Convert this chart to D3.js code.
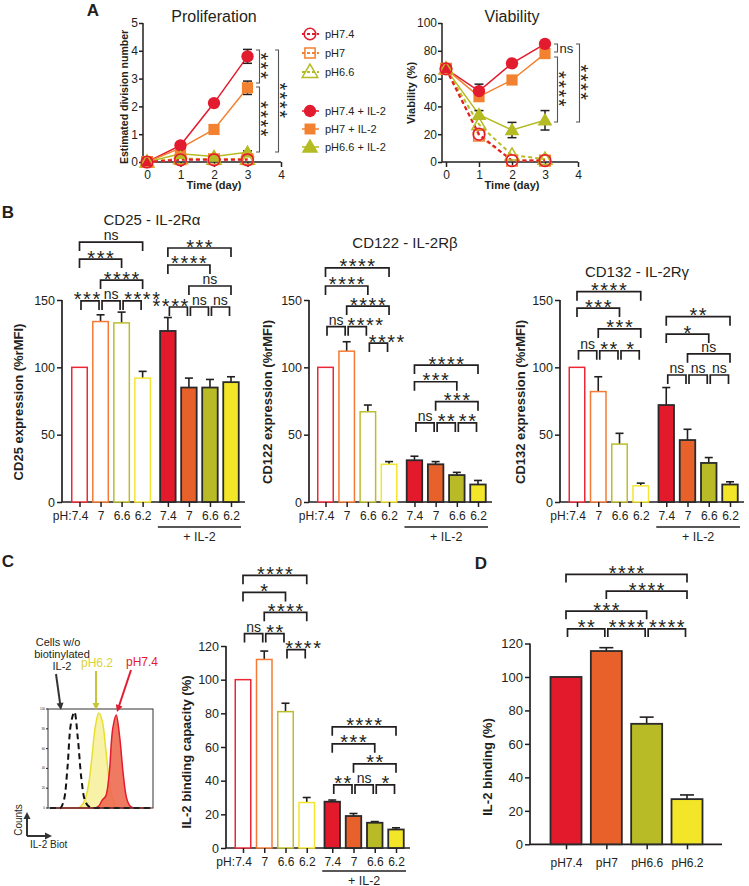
<!DOCTYPE html>
<html><head><meta charset="utf-8">
<script src="https://cdn.jsdelivr.net/npm/d3@7"></script>
<style>
body{margin:0;background:#fff;}
svg{font-family:"Liberation Sans",Arial,Helvetica,sans-serif;}
</style></head><body>
<svg id="c" width="749" height="886"></svg>
<script>
// ---------------- DATA ----------------
const days = [0, 1, 2, 3];
const seriesLabels = ["pH7.4", "pH7", "pH6.6", "pH7.4 + IL-2", "pH7 + IL-2", "pH6.6 + IL-2"];
// Proliferation (estimated division number)
const prolifPH74 = [0, 0.08, 0.08, 0.08];
const prolifPH7 = [0, 0.1, 0.1, 0.1];
const prolifPH66 = [0, 0.12, 0.1, 0.1];
const prolifPH74IL2 = [0, 0.6, 2.12, 3.8];
const prolifPH7IL2 = [0, 0.5, 1.17, 2.67];
const prolifPH66IL2 = [0, 0.3, 0.2, 0.35];
const prolifErrIL2 = [[0, 0.08, 0.08, 0.25], [0, 0.05, 0.08, 0.24], [0, 0.05, 0.05, 0.05]];
// Viability (%)
const viaPH74 = [67, 20, 1, 1];
const viaPH7 = [67, 19, 1, 1];
const viaPH66 = [67, 27, 5, 2];
const viaPH74IL2 = [67, 51, 71, 85];
const viaPH7IL2 = [67, 47, 59, 78];
const viaPH66IL2 = [67, 34, 23, 30];
const viaErrIL2 = [[0, 5, 1.5, 1.5], [0, 2, 1.5, 1.5], [0, 3, 5.5, 7]];
const prolifSig = [[4.03, 2.84, "***", 0], [2.7, 0.36, "****", 0], [4.03, 0.36, "****", 1]];
const viaSig = [[84.9, 79.1, "ns", 0], [75.5, 28.8, "****", 0], [84.9, 28.8, "****", 1]];

// Bar panels
const phTicks = ["7.4", "7", "6.6", "6.2", "7.4", "7", "6.6", "6.2"];
const cd25Values = [100, 134, 133, 92, 127, 85, 85, 89];
const cd25Err = [0, 5, 8, 5, 10, 7, 6, 4];
const cd122Values = [100, 112, 67, 28, 31, 28, 20, 13];
const cd122Err = [0, 7, 5, 2, 3, 2, 2, 3];
const cd132Values = [100, 82, 43, 12, 72, 46, 29, 13];
const cd132Err = [0, 11, 8, 2, 13, 8, 4, 2];
const bindValues = [100, 112, 81, 27, 27.5, 19, 15, 11];
const bindErr = [0, 5, 5, 3, 1, 1.5, 0.7, 1];
const dCategories = ["pH7.4", "pH7", "pH6.6", "pH6.2"];
const dValues = [100, 115.5, 72, 27];
const dErr = [0, 2, 4, 2.5];

// significance brackets: [from, to, label, height (data units)]
const cd25Sig = [[0,3,"ns",193],[0,2,"***",180.4],[1,3,"****",164.8],[0,1,"***",149.3],[1,2,"ns",149.3],[2,3,"****",149.3],
  [4,7,"***",188.6],[4,6,"****",176],[5,7,"ns",160.4],[4,5,"****",144.8],[5,6,"ns",144.8],[6,7,"ns",144.8]];
const cd122Sig = [[0,3,"****",173.8],[0,2,"****",160.4],[1,3,"****",145.5],[0,1,"ns",130.2],[1,2,"****",130.2],[2,3,"****",118],
  [4,7,"****",101.7],[4,6,"***",89.3],[5,7,"***",74.5],[4,5,"ns",58.7],[5,6,"**",58.7],[6,7,"**",58.7]];
const cd132Sig = [[0,3,"****",156.2],[0,2,"***",144],[1,3,"***",128.5],[0,1,"ns",112.3],[1,2,"**",112.3],[2,3,"*",112.3],
  [4,7,"**",137.6],[4,6,"*",124.7],[5,7,"ns",110],[4,5,"ns",94.3],[5,6,"ns",94.3],[6,7,"ns",94.3]];
const bindSig = [[0,3,"****",162],[0,2,"*",151.8],[1,3,"****",140],[0,1,"ns",127.4],[1,2,"**",127.4],[2,3,"****",117.9],
  [4,7,"****",72],[4,6,"***",61.9],[5,7,"**",50],[4,5,"**",37.5],[5,6,"ns",37.5],[6,7,"*",37.5]];
const dSig = [[0,3,"****",161.3],[1,3,"****",151.3],[0,2,"***",139.3],[0,1,"**",128.7],[1,2,"****",128.7],[2,3,"****",128.7]];

// Flow histogram (counts, % of max) across 30 fluorescence bins
const histCtrl = [0,0,0,0,8,40,85,97,70,30,8,2,0,0,0,0,0,0,0,0,0,0,0,0,0,0,0,0,0,0];
const histPH62 = [0,0,0,0,0,0,0,0,0,2,8,22,50,82,96,88,60,28,9,2,0,0,0,0,0,0,0,0,0,0];
const histPH74 = [0,0,0,0,0,0,0,0,0,0,0,0,0,0,2,8,12,35,80,94,72,35,10,2,0,0,0,0,0,0];

// ---------------- STYLE ----------------
const C = {red:"#e31b2e", orange:"#f28130", olive:"#b5bb22", yellow:"#f3e527",
  barRed:"#e21a2c", barOrange:"#e8612a", barOlive:"#b8bb26", barYellow:"#f3e527", ink:"#231f20"};
const openCols = ["#ec2836", "#f47a35", "#bcbd2e", "#f4e630"];
const fillCols = [C.barRed, C.barOrange, C.barOlive, C.barYellow];

const svg = d3.select("#c");

function styleAxis(sel, fs) {
  sel.selectAll("path.domain").remove();
  sel.selectAll(".tick line").attr("stroke", C.ink).attr("stroke-width", 1.5);
  sel.selectAll(".tick text").attr("fill", C.ink).style("font-size", fs + "px").style("font-family", '"Liberation Sans",Arial,sans-serif');
}
function line(g, x1, y1, x2, y2, w) {
  g.append("line").attr("x1", x1).attr("y1", y1).attr("x2", x2).attr("y2", y2)
    .attr("stroke", C.ink).attr("stroke-width", w || 1.5);
}
function label(g, x, y, t, fs, opts) {
  opts = opts || {};
  const el = g.append("text").attr("x", x).attr("y", y).text(t)
    .attr("text-anchor", opts.anchor || "middle").attr("fill", opts.fill || C.ink)
    .style("font-size", fs + "px").style("font-weight", opts.bold ? "bold" : "normal");
  if (opts.rot) el.attr("transform", `rotate(${opts.rot},${x},${y})`);
  return el;
}
function sigLabel(g, x, y, t) {
  if (t === "ns") return label(g, x, y - 2, t, 14);
  return label(g, x + 0.75, y + 5.5, t, 20).style("letter-spacing", "1.5px");
}

// panel letters
label(svg, 93, 16, "A", 17, {bold: true});
label(svg, 8, 218, "B", 17, {bold: true});
label(svg, 8, 567, "C", 17, {bold: true});
label(svg, 481, 569, "D", 17, {bold: true});

// ---------------- PANEL A ----------------
function linePanel(o) {
  const g = svg.append("g");
  const xs = d3.scaleLinear().domain([0, 4]).range([o.x0 + 4, o.x1]);
  const ys = d3.scaleLinear().domain([0, o.ymax]).range([o.y0, o.ytop]);
  // axes
  const ya = g.append("g").attr("transform", `translate(${o.x0},0)`)
    .call(d3.axisLeft(ys).tickValues(o.yticks).tickSize(4).tickPadding(1).tickFormat(d3.format("d")));
  styleAxis(ya, 12);
  const xa = g.append("g").attr("transform", `translate(0,${o.y0})`)
    .call(d3.axisBottom(xs).tickValues([0,1,2,3,4]).tickSize(5).tickPadding(3).tickFormat(d3.format("d")));
  styleAxis(xa, 12);
  line(g, o.x0, o.ytop, o.x0, o.y0);
  line(g, o.x0, o.y0, o.x1, o.y0);
  label(g, (o.x0 + o.x1) / 2 + 2, 22, o.title, 16);
  label(g, (o.x0 + o.x1) / 2 + 2, 189, "Time (day)", 11, {bold: true});
  label(g, o.ylabX, o.ylabY, o.ylab, o.ylabFs, {bold: true, rot: -90});

  const cols = [C.red, C.orange, C.olive, C.red, C.orange, C.olive];
  const syms = [d3.symbolCircle, d3.symbolSquare, d3.symbolTriangle];
  const sizes = [120, 125, 95];
  const lg = d3.line().x((d, i) => xs(days[i])).y(d => ys(d));
  [3, 4, 5].forEach((s) => {
    g.append("path").attr("d", lg(o.series[s])).attr("fill", "none").attr("stroke", cols[s]).attr("stroke-width", 1.5);
  });
  [2, 1, 0].forEach(s => {
    g.append("path").attr("d", lg(o.series[s])).attr("fill", "none").attr("stroke", cols[s]).attr("stroke-width", 2).attr("stroke-dasharray", "4,3");
  });
  [3, 4, 5].forEach((s, k) => {
    o.series[s].forEach((v, i) => {
      const e = o.err[k][i]; if (!e) return;
      const x = xs(days[i]);
      line(g, x, ys(v - e), x, ys(v + e), 1.5);
      line(g, x - 4.5, ys(v + e), x + 4.5, ys(v + e), 1.5);
      line(g, x - 4.5, ys(v - e), x + 4.5, ys(v - e), 1.5);
    });
  });
  [5, 4, 3].forEach((s) => {
    const k = s - 3;
    g.selectAll(null).data(o.series[s]).enter().append("path")
      .attr("transform", (d, i) => `translate(${xs(days[i])},${ys(d) + (k === 2 ? 1 : 0)})`)
      .attr("d", d3.symbol().type(syms[k]).size(sizes[k])).attr("fill", cols[s]);
  });
  [2, 1, 0].forEach((s) => {
    g.selectAll(null).data(o.series[s]).enter().append("path")
      .attr("transform", (d, i) => `translate(${xs(days[i])},${ys(d) + (s === 2 ? 1 : 0)})`)
      .attr("d", d3.symbol().type(syms[s]).size(sizes[s] * 0.9)).attr("fill", "none")
      .attr("stroke", cols[s]).attr("stroke-width", 1.5);
  });
  o.sig.forEach(([a, b, t, lvl]) => {
    const bx = lvl === 0 ? xs(3) + o.sigX0 : xs(3) + o.sigX1;
    const y1 = ys(a), y2 = ys(b);
    g.append("path").attr("d", `M${bx - 3.5},${y1}H${bx}V${y2}H${bx - 3.5}`)
      .attr("fill", "none").attr("stroke", "#555").attr("stroke-width", 1.1);
    if (t === "ns") label(g, bx + 2, (y1 + y2) / 2 + 4.5, t, 13, {anchor: "start"});
    else label(g, bx - 6, (y1 + y2) / 2, t, 20, {rot: 90}).style("letter-spacing", "1.5px");
  });
}

linePanel({x0: 143, x1: 281, y0: 162, ytop: 23, ymax: 5, yticks: [0,1,2,3,4,5], title: "Proliferation",
  ylab: "Estimated division number", ylabX: 127.5, ylabY: 97, ylabFs: 10.5,
  series: [prolifPH74, prolifPH7, prolifPH66, prolifPH74IL2, prolifPH7IL2, prolifPH66IL2],
  err: prolifErrIL2, sig: prolifSig, sigX0: 12, sigX1: 31});
linePanel({x0: 442, x1: 578, y0: 162, ytop: 23, ymax: 100, yticks: [0,20,40,60,80,100], title: "Viability",
  ylab: "Viability (%)", ylabX: 415, ylabY: 93, ylabFs: 11,
  series: [viaPH74, viaPH7, viaPH66, viaPH74IL2, viaPH7IL2, viaPH66IL2],
  err: viaErrIL2, sig: viaSig, sigX0: 12.5, sigX1: 34.5});

// legend
(function () {
  const g = svg.append("g");
  const rows = [34, 53, 72, 111, 129, 147];
  const cols = [C.red, C.orange, C.olive, C.red, C.orange, C.olive];
  const syms = [d3.symbolCircle, d3.symbolSquare, d3.symbolTriangle];
  seriesLabels.forEach((t, i) => {
    const y = rows[i], open = i < 3, k = i % 3;
    g.append("line").attr("x1", 302).attr("x2", 319).attr("y1", y).attr("y2", y)
      .attr("stroke", cols[i]).attr("stroke-width", open ? 2 : 1.5).attr("stroke-dasharray", open ? "3,2" : null);
    g.append("path").attr("transform", `translate(310,${y + (k === 2 ? 1 : 0)})`)
      .attr("d", d3.symbol().type(syms[k]).size(open ? 105 : 120))
      .attr("fill", open ? "none" : cols[i]).attr("stroke", open ? cols[i] : "none").attr("stroke-width", 1.5);
    label(g, 325, y + 4, t, 11, {anchor: "start"});
  });
})();

// ---------------- BAR PANELS ----------------
function sigBrackets(g, xs, ys, sig, nudge, leg) {
  sig.forEach(([i, j, t, v], n) => {
    let x1 = xs(i), x2 = xs(j);
    if (j - i === 1) { x1 += 1.5; x2 -= 1.5; }
    const y = ys(v);
    g.append("path").attr("d", `M${x1},${y + leg}V${y}H${x2}V${y + leg}`)
      .attr("fill", "none").attr("stroke", C.ink).attr("stroke-width", 1.7);
    sigLabel(g, (x1 + x2) / 2 + ((nudge && nudge[n]) || 0), y, t);
  });
}

function groupedBars(o) {
  const g = svg.append("g");
  const pos = d3.scaleLinear().domain([0, 7.2]).range([o.c0, o.c1]);
  const xs = i => pos(i + (i >= 4 ? 0.2 : 0));
  const ys = d3.scaleLinear().domain([0, o.ymax]).range([o.y0, o.ytop]);
  const bw = 15.5;
  const ya = g.append("g").attr("transform", `translate(${o.x0},0)`)
    .call(d3.axisLeft(ys).tickValues(o.yticks).tickSize(5).tickPadding(2));
  styleAxis(ya, 12.5);
  line(g, o.x0, o.ytop, o.x0, o.y0, 1.7);
  line(g, o.x0, o.y0, xs(7) + 14, o.y0, 1.7);
  o.values.forEach((v, i) => {
    const open = i < 4, c = i % 4;
    const x = xs(i);
    const e = o.err[i];
    if (e) {
      line(g, x, ys(v), x, ys(v + e), 1.6);
      line(g, x - 4, ys(v + e), x + 4, ys(v + e), 1.6);
    }
    g.append("rect").attr("x", x - bw / 2).attr("y", ys(v)).attr("width", bw).attr("height", o.y0 - ys(v))
      .attr("fill", open ? "#fff" : fillCols[c]).attr("stroke", open ? openCols[c] : "#2a2a2a")
      .attr("stroke-width", open ? 1.5 : 1.8);
  });
  const idx = d3.range(8);
  const xa = g.append("g").attr("transform", `translate(0,${o.y0})`)
    .call(d3.axisBottom(d3.scaleOrdinal().domain(idx).range(idx.map(xs))).tickSize(5).tickPadding(4).tickFormat(i => phTicks[i]));
  styleAxis(xa, 12);
  label(g, xs(0) - 8, o.y0 + 18, "pH:", 12, {anchor: "end"});
  line(g, xs(4) - 10, o.y0 + o.ulY, xs(7) + 10, o.y0 + o.ulY, 1.5);
  label(g, (xs(4) + xs(7)) / 2, o.y0 + o.ulY + 13.5, "+ IL-2", 12.5);
  label(g, o.ylabX, o.ylabY, o.ylab, 13, {bold: true, rot: -90});
  if (o.title) label(g, o.titleX, o.titleY, o.title, 15);
  sigBrackets(g, xs, ys, o.sig, o.nudge, 9);
}

groupedBars({x0: 62, c0: 79.5, c1: 231, y0: 502, ytop: 300, ymax: 150, yticks: [0, 50, 100, 150], ulY: 25,
  values: cd25Values, err: cd25Err, sig: cd25Sig, nudge: {3: -3, 5: 10, 9: -8},
  ylab: "CD25 expression (%rMFI)", ylabX: 23, ylabY: 402, title: "CD25 - IL-2Rα", titleX: 152, titleY: 225});
groupedBars({x0: 309, c0: 325.5, c1: 478, y0: 502, ytop: 300, ymax: 150, yticks: [0, 50, 100, 150], ulY: 25,
  values: cd122Values, err: cd122Err, sig: cd122Sig, nudge: {4: 8, 5: 8},
  ylab: "CD122 expression (%rMFI)", ylabX: 272, ylabY: 402, title: "CD122 - IL-2Rβ", titleX: 405, titleY: 248});
groupedBars({x0: 560, c0: 577, c1: 730, y0: 502, ytop: 300, ymax: 150, yticks: [0, 50, 100, 150], ulY: 25,
  values: cd132Values, err: cd132Err, sig: cd132Sig, nudge: {},
  ylab: "CD132 expression (%rMFI)", ylabX: 525, ylabY: 402, title: "CD132 - IL-2Rγ", titleX: 637, titleY: 277});
groupedBars({x0: 226, c0: 243, c1: 396, y0: 848, ytop: 646, ymax: 120, yticks: [0, 20, 40, 60, 80, 100, 120], ulY: 23,
  values: bindValues, err: bindErr, sig: bindSig, nudge: {5: 7},
  ylab: "IL-2 binding capacity (%)", ylabX: 191, ylabY: 752});

// ---------------- PANEL D ----------------
(function () {
  const g = svg.append("g");
  const xs = d3.scalePoint().domain(dCategories).range([566, 687]);
  const ys = d3.scaleLinear().domain([0, 120]).range([844.3, 643.5]);
  const bw = 31;
  const ya = g.append("g").attr("transform", "translate(530,0)")
    .call(d3.axisLeft(ys).tickValues([0, 20, 40, 60, 80, 100, 120]).tickSize(5).tickPadding(2));
  styleAxis(ya, 13);
  line(g, 530, 643.5, 530, 844.3, 1.7);
  line(g, 530, 844.3, 722, 844.3, 1.7);
  dValues.forEach((v, i) => {
    const x = xs(dCategories[i]), e = dErr[i];
    if (e) {
      line(g, x, ys(v), x, ys(v + e), 1.6);
      line(g, x - 7, ys(v + e), x + 7, ys(v + e), 1.6);
    }
    g.append("rect").attr("x", x - bw / 2).attr("y", ys(v)).attr("width", bw).attr("height", 844.3 - ys(v))
      .attr("fill", fillCols[i]).attr("stroke", "#2a2a2a").attr("stroke-width", 1.8);
  });
  const xa = g.append("g").attr("transform", "translate(0,844.3)")
    .call(d3.axisBottom(xs).tickSize(5).tickPadding(9));
  styleAxis(xa, 12);
  label(g, 492, 767, "IL-2 binding (%)", 13, {bold: true, rot: -90});
  sigBrackets(g, i => xs(dCategories[i]), ys, dSig, {}, 8);
})();

// ---------------- FLOW HISTOGRAM (C left) ----------------
(function () {
  const g = svg.append("g");
  const bx0 = 48, bx1 = 153, by0 = 808, by1 = 709;
  const hx = d3.scaleLinear().domain([0, histCtrl.length - 1]).range([bx0 + 2, bx1 - 2]);
  const hy = d3.scaleLinear().domain([0, 100]).range([by0, by1]);
  const area = d3.area().x((d, i) => hx(i)).y0(by0).y1(d => hy(d)).curve(d3.curveCatmullRom);
  const ln = d3.line().x((d, i) => hx(i)).y(d => hy(d)).curve(d3.curveCatmullRom);
  g.append("path").attr("d", area(histPH62)).attr("fill", "#f8f1a8").attr("stroke", "#e8df2c").attr("stroke-width", 1.5);
  g.append("path").attr("d", area(histPH74)).attr("fill", "#ee6a50").attr("fill-opacity", 0.9).attr("stroke", "#e31b2e").attr("stroke-width", 1.5);
  g.append("path").attr("d", ln(histCtrl)).attr("fill", "none").attr("stroke", "#111").attr("stroke-width", 2).attr("stroke-dasharray", "6,4");
  g.append("rect").attr("x", bx0).attr("y", by1).attr("width", bx1 - bx0).attr("height", by0 - by1)
    .attr("fill", "none").attr("stroke", "#333").attr("stroke-width", 1);
  [0, 20, 40, 60, 80, 100].forEach(v => {
    line(g, bx0 - 2, hy(v), bx0, hy(v), 1);
    label(g, bx0 - 3, hy(v) + 1, String(v), 3, {anchor: "end"});
  });
  label(g, 58, 646, "Cells w/o", 11);
  label(g, 62, 658, "biotinylated", 11);
  label(g, 62, 670, "IL-2", 11);
  label(g, 97, 667, "pH6.2", 12, {fill: "#d8d23a"});
  label(g, 142, 666, "pH7.4", 12, {fill: C.red});
  function arrow(x1, y1, x2, y2, col) {
    const a = Math.atan2(y2 - y1, x2 - x1);
    g.append("line").attr("x1", x1).attr("y1", y1).attr("x2", x2 - 5 * Math.cos(a)).attr("y2", y2 - 5 * Math.sin(a))
      .attr("stroke", col).attr("stroke-width", 2);
    const p = [[x2, y2], [x2 - 7 * Math.cos(a) + 3.5 * Math.sin(a), y2 - 7 * Math.sin(a) - 3.5 * Math.cos(a)],
      [x2 - 7 * Math.cos(a) - 3.5 * Math.sin(a), y2 - 7 * Math.sin(a) + 3.5 * Math.cos(a)]];
    g.append("path").attr("d", "M" + p.join("L") + "Z").attr("fill", col);
  }
  arrow(56, 674, 61, 710, "#333");
  arrow(96, 671, 96, 710, "#c8c43a");
  arrow(131, 670, 117, 712, C.red);
  arrow(27, 836, 27, 812, "#333");
  arrow(27, 836, 52, 836, "#333");
  label(g, 22, 820, "Counts", 10, {rot: -90});
  label(g, 30, 848, "IL-2 Biot", 10, {anchor: "start"});
})();
</script>
</body></html>
